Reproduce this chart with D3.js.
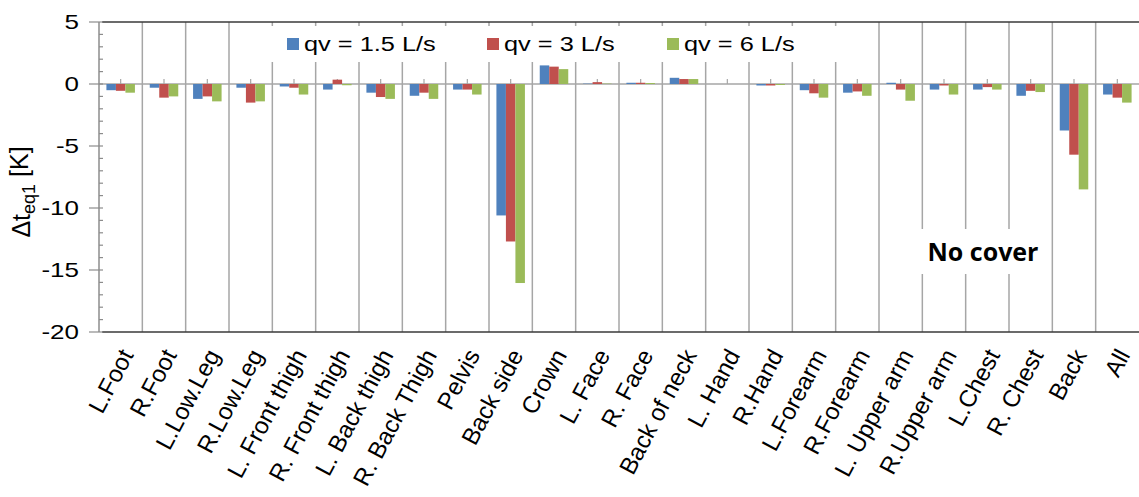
<!DOCTYPE html>
<html>
<head>
<meta charset="utf-8">
<script src="https://cdn.jsdelivr.net/npm/d3@7"></script>
<style>
  html, body { margin: 0; padding: 0; background: #fff; }
  svg { display: block; }
  text { font-family: "Liberation Sans", Arial, sans-serif; fill: #000; }
</style>
</head>
<body>
<svg id="chart" width="1139" height="497"></svg>
<script>
const categories = ["L.Foot","R.Foot","L.Low.Leg","R.Low.Leg","L. Front thigh","R. Front thigh","L. Back thigh","R. Back Thigh","Pelvis","Back side","Crown","L. Face","R. Face","Back of neck","L. Hand","R.Hand","L.Forearm","R.Forearm","L. Upper arm","R.Upper arm","L.Chest","R. Chest","Back","All"];
const seriesNames = ["qv = 1.5 L/s","qv = 3 L/s","qv = 6 L/s"];
const q15 = [-0.5,-0.3,-1.2,-0.3,-0.2,-0.45,-0.7,-0.95,-0.45,-10.6,1.5,0.03,0.1,0.5,0,-0.12,-0.5,-0.7,0.1,-0.45,-0.45,-0.95,-3.75,-0.85];
const q3  = [-0.55,-1.1,-1.0,-1.5,-0.3,0.35,-1.05,-0.7,-0.45,-12.7,1.4,0.15,0.1,0.4,0,-0.12,-0.75,-0.6,-0.45,-0.12,-0.25,-0.55,-5.7,-1.1];
const q6  = [-0.7,-1.0,-1.4,-1.4,-0.85,-0.1,-1.2,-1.2,-0.85,-16.05,1.2,0.03,0.08,0.4,0,-0.08,-1.1,-0.95,-1.35,-0.85,-0.45,-0.65,-8.5,-1.5];
const colors = ["#4F81BD","#C0504D","#9BBB59"];
const yTicks = [5,0,-5,-10,-15,-20];
const yTitle = "\u0394t";
const yTitleSub = "eq1";
const yTitleUnit = " [K]";
const noteText = "No cover";

(function () {
const series = [q15, q3, q6];
const svg = d3.select("#chart");
const pL = 99, pR = 1139, pT = 22, pB = 332;
const SX = 1.3;

const x = d3.scaleBand().domain(categories).range([pL, pR]).padding(0);
const x1 = d3.scaleBand().domain(d3.range(3)).range([0, x.bandwidth()]).paddingInner(0).paddingOuter(0.78);
const y = d3.scaleLinear().domain([-20, 5]).range([pB, pT]);

// vertical gridlines at category boundaries
const bounds = categories.map(c => x(c)).slice(1);
svg.append("g").selectAll("line").data(bounds).join("line")
  .attr("x1", d => d).attr("x2", d => d)
  .attr("y1", pT).attr("y2", pB)
  .attr("stroke", "#a6a6a6").attr("stroke-width", 1.5);

// zero line
svg.append("line").attr("x1", pL).attr("x2", pR)
  .attr("y1", y(0)).attr("y2", y(0)).attr("stroke", "#a6a6a6").attr("stroke-width", 1.5);
// category ticks on zero line
svg.append("g").selectAll("line").data(categories).join("line")
  .attr("x1", d => x(d) + x.bandwidth()/2).attr("x2", d => x(d) + x.bandwidth()/2)
  .attr("y1", y(0) - 5).attr("y2", y(0))
  .attr("stroke", "#a6a6a6").attr("stroke-width", 1.2);

// bars
const gBars = svg.append("g");
series.forEach((vals, si) => {
  gBars.append("g").selectAll("rect").data(vals).join("rect")
    .attr("x", (d, i) => x(categories[i]) + x1(si))
    .attr("width", x1.bandwidth())
    .attr("y", d => y(Math.max(0, d)))
    .attr("height", d => Math.abs(y(d) - y(0)))
    .attr("fill", colors[si]);
});

// top and bottom frame lines
svg.append("line").attr("x1", pL + 3).attr("x2", pR).attr("y1", pT).attr("y2", pT)
  .attr("stroke", "#3a3a3a").attr("stroke-width", 1.6);
svg.append("line").attr("x1", pL + 3).attr("x2", pR).attr("y1", pB).attr("y2", pB)
  .attr("stroke", "#3a3a3a").attr("stroke-width", 1.6);

// y axis
const yAxis = svg.append("g");
yAxis.append("line").attr("x1", pL).attr("x2", pL).attr("y1", pT).attr("y2", pB)
  .attr("stroke", "#8c8c8c").attr("stroke-width", 1.5);
const minor = d3.range(-20, 6, 1);
yAxis.selectAll("line.minor").data(minor).join("line").attr("class", "minor")
  .attr("x1", pL).attr("x2", pL + 4).attr("y1", d => y(d)).attr("y2", d => y(d))
  .attr("stroke", "#8c8c8c").attr("stroke-width", 1.2);
yAxis.selectAll("line.major").data(yTicks).join("line").attr("class", "major")
  .attr("x1", pL - 10).attr("x2", pL).attr("y1", d => y(d)).attr("y2", d => y(d))
  .attr("stroke", "#8c8c8c").attr("stroke-width", 1.2);
yAxis.selectAll("text").data(yTicks).join("text")
  .attr("transform", d => `translate(79,${y(d)}) scale(${SX},1)`)
  .attr("dy", "0.36em").attr("text-anchor", "end")
  .style("font-size", "20px").text(d => d);

// y title
const yt = svg.append("text").attr("transform", `translate(30,192) rotate(-90)`)
  .attr("text-anchor", "middle").style("font-size", "25px");
yt.append("tspan").text(yTitle);
yt.append("tspan").attr("dy", "0.3em").style("font-size", "18px").text(yTitleSub);
yt.append("tspan").attr("dy", "-0.3em").text(yTitleUnit);

// x labels
svg.append("g").selectAll("text").data(categories).join("text")
  .attr("transform", d => `translate(${x(d) + x.bandwidth()/2 + 6},${pB + 19}) rotate(-62)`)
  .attr("text-anchor", "end").attr("dy", "0.35em")
  .style("font-size", "24px").text(d => d);

// legend
const lg = svg.append("g");
lg.append("rect").attr("x", 240).attr("y", 26).attr("width", 620).attr("height", 36).attr("fill", "#fff");
const legX = [287, 487, 667];
seriesNames.forEach((n, i) => {
  lg.append("rect").attr("x", legX[i]).attr("y", 38).attr("width", 12).attr("height", 12).attr("fill", colors[i]);
  lg.append("text").attr("transform", `translate(${legX[i] + 17},44) scale(${SX},1)`)
    .attr("dy", "0.36em").style("font-size", "19.5px").text(n);
});

// No cover note
svg.append("rect").attr("x", 905).attr("y", 229).attr("width", 140).attr("height", 45).attr("fill", "#fff");
svg.append("text").attr("x", 983).attr("y", 252).attr("dy", "0.36em").attr("text-anchor", "middle")
  .style("font-family", "'Open Sans', 'Noto Sans', sans-serif").style("font-weight", "700")
  .style("font-size", "25px").text(noteText);
})();
</script>
</body>
</html>
